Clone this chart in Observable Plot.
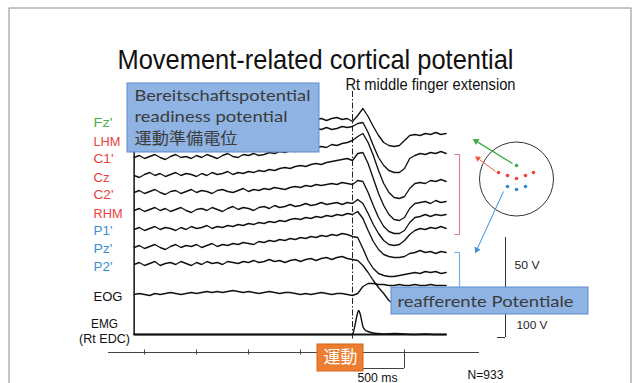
<!DOCTYPE html>
<html><head><meta charset="utf-8">
<script src="https://cdn.jsdelivr.net/npm/d3@7"></script>
<script src="https://cdn.jsdelivr.net/npm/@observablehq/plot@0.6"></script>
<style>
html,body{margin:0;padding:0;background:#fff;}
#chart{width:638px;height:383px;overflow:hidden;}
</style></head><body><div id="chart"></div>
<script>
// ================= DATA =================
const channels = ["Fz'", "LHM", "C1'", "Cz", "C2'", "RHM", "P1'", "Pz'", "P2'", "EOG"];
const channelRegion = ["frontal", "central", "central", "central", "central", "central", "parietal", "parietal", "parietal", "eye"];
const sampleStartMs = -2100, sampleStepMs = 50; // samples every 50 ms, movement onset = 0 ms
// amplitudes (display units, negativity up)
const fzValues  = [0,2,-1,1,3,0,-2,1,2,-1, 1,3,0,2,-1,0,2,1,-1,2, 3,0,1,2,-1,1,3,1,0,2, 3,1,2,4,1,2,3,1,3,4, 2,3,
                   0,6,13,5,-5,-14,-21,-24,-25,-24,-19,-14,-13,-14,-12,-13,-11,-13,-12];
const lhmValues = [0,2,-1,1,3,1,0,2,4,1, 2,3,1,3,5,2,4,3,5,4, 6,4,5,7,5,6,8,6,7,9, 7,8,10,8,9,11,10,12,10,11, 13,12,
                   13,16,17,7,-6,-18,-26,-31,-33,-33,-29,-19,-16,-14,-15,-13,-14,-12,-14];
const c1Values  = [0,2,-1,1,3,0,-2,1,3,0, 1,-1,2,0,3,1,-1,2,4,1, 0,3,2,4,2,3,5,4,6,5, 7,6,8,9,8,10,11,10,13,12, 14,15,
                   17,21,24,15,2,-13,-26,-35,-40,-41,-39,-31,-26,-25,-26,-23,-24,-22,-24];
const czValues  = [0,-2,1,3,0,2,-1,1,3,0, 2,1,-1,2,0,3,1,2,4,1, 3,2,4,3,5,4,6,5,7,8, 7,9,10,9,11,12,11,13,14,15, 16,17,
                   15,22,23,12,-3,-18,-30,-39,-44,-45,-42,-33,-28,-27,-26,-28,-25,-27,-26];
const c2Values  = [0,2,-1,1,3,0,-2,1,2,-1, 1,3,0,2,1,-1,2,3,1,0, 2,4,1,3,2,4,3,5,4,3, 5,6,5,7,6,8,7,8,9,8, 10,9,
                   8,12,11,0,-13,-25,-34,-39,-41,-41,-38,-30,-25,-24,-22,-24,-22,-23,-22];
const rhmValues = [0,2,-1,1,3,0,2,-1,1,3, 0,-2,1,2,0,3,1,-1,2,4, 1,3,2,0,3,4,2,5,3,4, 6,4,5,7,5,6,8,6,7,8, 6,8,
                   7,11,7,-3,-14,-23,-30,-34,-35,-34,-30,-24,-20,-18,-19,-17,-18,-16,-18];
const p1Values  = [0,2,-1,1,3,0,2,1,-1,2, 0,3,1,2,4,1,3,2,4,3, 5,4,6,5,7,6,8,7,9,8, 10,11,10,12,11,13,12,14,13,15, 14,16,
                   15,18,11,-1,-12,-20,-25,-27,-28,-28,-27,-24,-23,-21,-23,-22,-24,-22,-23];
const pzValues  = [0,2,-1,1,3,0,-2,1,3,0, 2,1,3,0,2,4,1,3,2,4, 3,5,4,3,6,5,7,6,8,7, 9,8,10,9,11,10,12,11,13,12, 14,13,
                   11,10,-1,-13,-21,-26,-28,-29,-29,-28,-27,-26,-25,-26,-24,-25,-24,-26,-25];
const p2Values  = [0,2,-1,1,3,-1,1,2,0,3, 1,-1,2,0,3,1,2,0,3,2, 1,3,2,4,2,3,5,3,4,2, 4,5,3,5,6,4,6,7,5,7, 8,6,
                   5,4,-1,-8,-16,-23,-29,-36,-40,-41,-40,-39,-38,-38,-37,-38,-37,-38,-37];
const eogValues = [1,2,1,0,2,1,2,3,2,1, 2,3,2,3,4,3,4,3,4,5, 4,3,4,3,2,3,4,3,2,3, 3,2,1,2,1,2,3,2,1,2, 2,1,
                   0,2,9,12,12,11,11,10,10,11,10,10,11,10,10,11,10,10,10];
const emgTimes  = [-2100,-1500,-1000,-500,-100,0,25,50,60,75,100,125,150,200,250,300,400,500,600,700,800,900];
const emgValues = [0,0,0,0,0,0,10,22,24,20,8,4,3,1.5,1,0.5,1,0.5,0,0.5,0,0];
const timeTicksMs = [-2000,-1500,-1000,-500,0,500];
const scaleBarMs = 500;
const electrodeRegion = ["frontal","central","central","central","central","central","parietal","parietal","parietal"];
const titleText = "Movement-related cortical potential";
const subtitleText = "Rt middle finger extension";
const readinessLines = ["Bereitschaftspotential", "readiness potential", "運動準備電位"];
const reafferentText = "reafferente Potentiale";
const movementText = "運動";
const scaleBarText = "500 ms";
const nText = "N=933";
const voltTexts = ["50 V", "100 V"];
const emgLabels = ["EMG", "(Rt EDC)"];

// ================= LAYOUT / STYLE =================
const W = 638, H = 383, X0 = -3385, X1 = 2750;
const toMs = px => X0 + px / W * (X1 - X0);
const regionColor = {frontal: "#4caf50", central: "#e8403a", parietal: "#3a8fd0", eye: "#111"};
const dotColor = {frontal: "#3fae49", central: "#ee4035", parietal: "#2f86c8"};
const L = {
  baseY: [121,139,157,175,192,210,229,247,264,295], emgBaseY: 334,
  labelX: toMs(93), labelBase: [126,145,162,181,198,217,234,252,270,300],
  emgLabelX: toMs(104), emgLabelBase: [327,342],
  electrodes: [[516,165],[498,172],[507,175],[516,178],[525,175],[533,172],[507,186],[516,189],[525,186]],
  arrows: [
    {c: "#3cae47", from: [512,163], to: [473,139], w: 1.4, r: 4.2},
    {c: "#ef5a4a", from: [495,171], to: [475,156], w: 1.0, r: 3.4},
    {c: "#3b8fd4", from: [503,191], to: [475,252], w: 1.0, r: 3.8}
  ]
};
const textWidths = {
  [titleText]: 396, [subtitleText]: 170,
  "Fz'": 19, "LHM": 27, "C1'": 20, "Cz": 16, "C2'": 20, "RHM": 29, "P1'": 19, "Pz'": 19, "P2'": 19, "EOG": 29,
  "EMG": 27, "(Rt EDC)": 51,
  "Bereitschaftspotential": 176, "readiness potential": 153, "運動準備電位": 103,
  [reafferentText]: 176, [movementText]: 34, [scaleBarText]: 40, [nText]: 36, "50 V": 25, "100 V": 31
};

// ================= BUILD =================
const series = [fzValues, lhmValues, c1Values, czValues, c2Values, rhmValues, p1Values, pzValues, p2Values, eogValues];
const traceRows = series.flatMap((vals, k) => vals.map((v, i) => ({ch: channels[k], t: sampleStartMs + i * sampleStepMs, y: L.baseY[k] - v})));
const emgRows = emgTimes.map((t, i) => ({t, y: L.emgBaseY - emgValues[i]}));
const labelRows = channels.map((c, k) => ({text: c, y: L.labelBase[k], color: regionColor[channelRegion[k]]}));
const emgLabelRows = emgLabels.map((s, k) => ({text: s, y: L.emgLabelBase[k]}));
const electrodeRows = L.electrodes.map((p, k) => ({x: toMs(p[0]), y: p[1], color: dotColor[electrodeRegion[k]]}));
const arrowRows = L.arrows.map(a => {
  const dx = a.to[0] - a.from[0], dy = a.to[1] - a.from[1], len = Math.hypot(dx, dy), ux = dx / len, uy = dy / len;
  return {c: a.c, w: a.w, r: a.r, x1: toMs(a.from[0]), y1: a.from[1], x2: toMs(a.to[0] - ux * 5), y2: a.to[1] - uy * 5,
          hx: toMs(a.to[0] - ux * 3), hy: a.to[1] - uy * 3, rot: Math.atan2(dx, -dy) * 180 / Math.PI};
});
const readinessLatin = readinessLines.slice(0, 2).map((s, k) => ({text: s, y: [100, 121][k]}));
const readinessCjk = readinessLines.slice(2).map(s => ({text: s, y: 143}));
const voltRows = voltTexts.map((s, k) => ({text: s, x: toMs([514, 516][k]), y: [268, 328][k]}));
const cjk = "'Noto Sans CJK JP', 'Noto Sans', sans-serif";
const boxLatin = "Lato, 'Noto Sans', sans-serif";

const chart = Plot.plot({
  width: W, height: H, margin: 0,
  x: {domain: [X0, X1], range: [0, W], axis: null},
  y: {domain: [0, H], range: [0, H], axis: null},
  color: {type: "identity"},
  style: {fontFamily: "'Liberation Sans', Arial, sans-serif", background: "white", color: "#111"},
  marks: [
    // slide frame
    Plot.rect([0], {x1: toMs(9), x2: toMs(631), y1: 8, y2: 420, fill: "none", stroke: "#8c8c8c", strokeWidth: 1}),
    // time axis & scale bar
    Plot.ruleY([352], {x1: toMs(108), x2: toMs(479), stroke: "#444", strokeWidth: 1}),
    Plot.ruleX(timeTicksMs, {y1: 349.5, y2: 354.5, stroke: "#444", strokeWidth: 1}),
    Plot.ruleY([368], {x1: 0, x2: scaleBarMs, stroke: "#444", strokeWidth: 1}),
    Plot.ruleX([scaleBarMs], {y1: 352, y2: 368, stroke: "#444", strokeWidth: 1}),
    // trace frame
    Plot.ruleX([sampleStartMs], {y1: 110, y2: 335, stroke: "#111", strokeWidth: 1.5}),
    Plot.ruleY([L.emgBaseY], {x1: sampleStartMs, x2: 910, stroke: "#111", strokeWidth: 2.2}),
    Plot.ruleX([0], {y1: 91, y2: 340, stroke: "#222", strokeWidth: 1, strokeDasharray: "6,2,1.5,2"}),
    // traces
    Plot.line(traceRows, {x: "t", y: "y", z: "ch", stroke: "#111", strokeWidth: 1.35, strokeLinejoin: "round"}),
    Plot.line(emgRows, {x: "t", y: "y", stroke: "#111", strokeWidth: 1.4, curve: "monotone-x"}),
    // channel labels
    Plot.text(labelRows, {x: L.labelX, y: "y", text: "text", fill: "color", textAnchor: "start", lineAnchor: "bottom", fontSize: 12.5}),
    Plot.text(emgLabelRows, {x: L.emgLabelX, y: "y", text: "text", fill: "#111", textAnchor: "middle", lineAnchor: "bottom", fontSize: 13}),
    // brackets
    Plot.line([[454,154],[459,154],[459,234],[454,234]].map(([x,y]) => ({x: toMs(x), y})), {x: "x", y: "y", stroke: "#d87fb0", strokeWidth: 1.2}),
    Plot.line([[454,252],[459,252],[459,290]].map(([x,y]) => ({x: toMs(x), y})), {x: "x", y: "y", stroke: "#74afdf", strokeWidth: 1.2}),
    // head diagram
    Plot.dot([0], {x: toMs(516), y: 178.5, r: 37, fill: "none", stroke: "#333", strokeWidth: 1, ariaLabel: "head"}),
    Plot.dot(electrodeRows, {x: "x", y: "y", r: 1.8, fill: "color", stroke: "none"}),
    Plot.link(arrowRows, {x1: "x1", y1: "y1", x2: "x2", y2: "y2", stroke: "c", strokeWidth: "w"}),
    Plot.dot(arrowRows, {x: "hx", y: "hy", symbol: "triangle2", r: "r", fill: "c", stroke: "none", rotate: "rot"}),
    // voltage scale
    Plot.ruleX([toMs(505)], {y1: 237, y2: 337, stroke: "#333", strokeWidth: 1}),
    Plot.ruleY([337], {x1: toMs(497), x2: toMs(505), stroke: "#333", strokeWidth: 1}),
    Plot.text(voltRows, {x: "x", y: "y", text: "text", textAnchor: "start", lineAnchor: "bottom", fontSize: 11, fill: "#222"}),
    // note boxes
    Plot.rect([0], {x1: toMs(127), x2: toMs(319), y1: 83, y2: 152, fill: "#8fb3e3", stroke: "#5b8ccf", strokeWidth: 1, ariaLabel: "note box"}),
    Plot.rect([0], {x1: toMs(391), x2: toMs(588), y1: 287, y2: 314, fill: "#8fb3e3", stroke: "#5b8ccf", strokeWidth: 1, ariaLabel: "note box"}),
    Plot.text(readinessLatin, {x: toMs(134), y: "y", text: "text", textAnchor: "start", lineAnchor: "bottom", fontSize: 16, fill: "#3b3b3b", fontFamily: boxLatin}),
    Plot.text(readinessCjk, {x: toMs(134), y: "y", text: "text", textAnchor: "start", lineAnchor: "bottom", fontSize: 15.5, fill: "#3b3b3b", fontFamily: cjk}),
    Plot.text([reafferentText], {x: toMs(397), y: 306, text: d => d, textAnchor: "start", lineAnchor: "bottom", fontSize: 16, fill: "#3b3b3b", fontFamily: boxLatin}),
    Plot.rect([0], {x1: toMs(317), x2: toMs(363), y1: 344, y2: 371, fill: "#ed7d31", stroke: "#d2671f", strokeWidth: 1}),
    Plot.text([movementText], {x: toMs(340), y: 362, text: d => d, textAnchor: "middle", lineAnchor: "bottom", fontSize: 17, fill: "white", fontFamily: cjk}),
    Plot.text([scaleBarText], {x: toMs(357), y: 381, text: d => d, textAnchor: "start", lineAnchor: "bottom", fontSize: 12.5, fill: "#111"}),
    Plot.text([nText], {x: toMs(467), y: 378, text: d => d, textAnchor: "start", lineAnchor: "bottom", fontSize: 13, fill: "#111"}),
    // titles
    Plot.text([titleText], {x: toMs(117), y: 68, text: d => d, textAnchor: "start", lineAnchor: "bottom", fontSize: 28, fill: "#111"}),
    Plot.text([subtitleText], {x: toMs(345), y: 89, text: d => d, textAnchor: "start", lineAnchor: "bottom", fontSize: 16.5, fill: "#111"})
  ]
});

// ---- styling post-process ----
const ns = "http://www.w3.org/2000/svg";
const defs = document.createElementNS(ns, "defs");
defs.innerHTML = '<linearGradient id="noteGrad" x1="0" y1="0" x2="0" y2="1"><stop offset="0" stop-color="#a7c6ec"/><stop offset="1" stop-color="#79a2da"/></linearGradient>';
chart.insertBefore(defs, chart.firstChild);
chart.querySelectorAll('g[aria-label="note box"] rect').forEach(r => r.setAttribute("fill", "url(#noteGrad)"));
chart.querySelectorAll('g[aria-label="head"] circle').forEach(c => {
  const cx = +c.getAttribute("cx"), cy = +c.getAttribute("cy");
  if (!isNaN(cx) && !isNaN(cy) && c.hasAttribute("cx")) {
    c.setAttribute("transform", `translate(${cx},${cy}) scale(0.96,1.055) translate(${-cx},${-cy})`);
    c.setAttribute("vector-effect", "non-scaling-stroke");
  }
});
chart.querySelectorAll("text").forEach(t => {
  const w = textWidths[t.textContent];
  if (w) { t.setAttribute("textLength", w); t.setAttribute("lengthAdjust", "spacingAndGlyphs"); }
});
document.getElementById("chart").appendChild(chart);
</script>
</body></html>
